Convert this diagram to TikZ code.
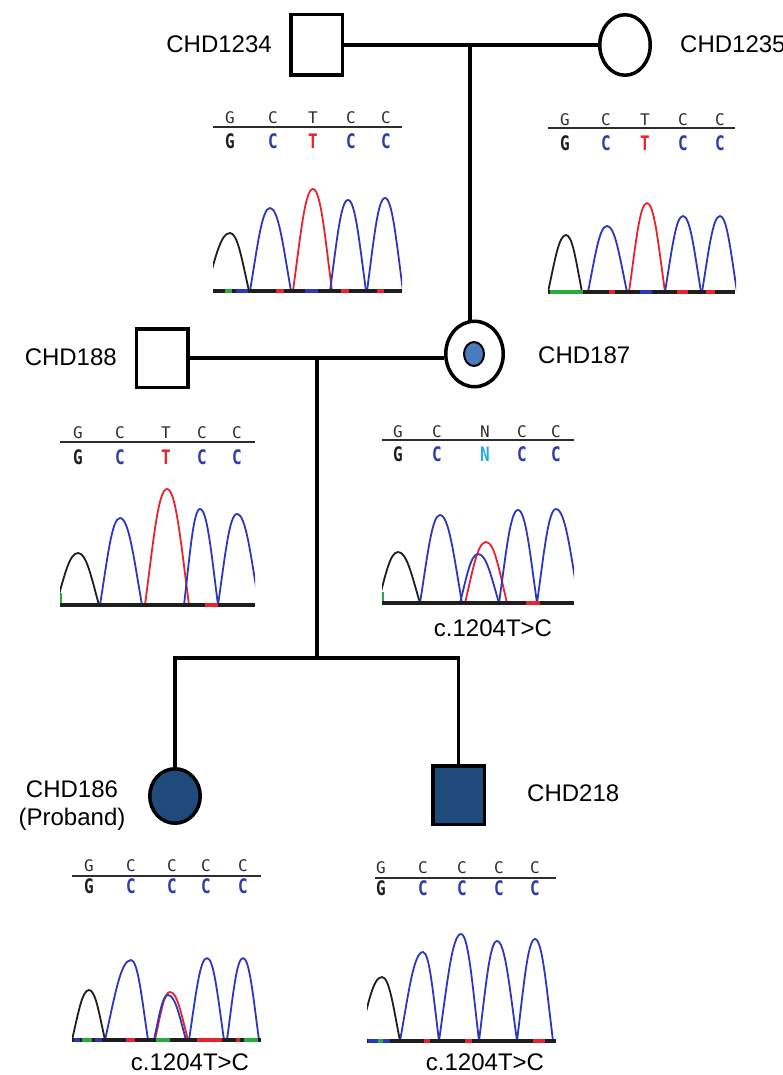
\documentclass[tikz,border=0pt]{standalone}
\usepackage{fontspec}
\setmainfont{Liberation Sans}
\newfontfamily\seqfont[Scale=1.0]{DejaVu Sans Mono}
\newfontfamily\seqbold[FakeStretch=0.8]{DejaVu Sans Mono Bold}
\usetikzlibrary{shapes.geometric}
\definecolor{aff}{RGB}{30,74,124}
\definecolor{dotc}{RGB}{72,124,190}
\definecolor{trblue}{RGB}{45,55,190}
\definecolor{trred}{RGB}{232,35,45}
\definecolor{trblack}{RGB}{30,30,30}
\definecolor{trgreen}{RGB}{40,170,60}
\definecolor{ltblue}{RGB}{45,60,170}
\definecolor{ncyan}{RGB}{40,170,225}
\definecolor{hdrgray}{RGB}{45,45,45}
\tikzset{
  ped/.style={line width=3.5pt},
  malebox/.style={draw, line width=3.5pt, rectangle, inner sep=0pt, minimum width=51.5pt},
  femalebox/.style={draw, line width=3.5pt, ellipse, inner sep=0pt},
  lab/.style={font=\fontsize{24}{28}\selectfont, inner sep=0pt},
  upl/.style={font=\fontsize{16}{16}\selectfont\seqfont, text=hdrgray, inner sep=0pt},
  lol/.style={font=\fontsize{20}{20}\selectfont\seqbold, inner sep=0pt},
  hline/.style={line width=2pt, hdrgray},
  trace/.style={line width=1.8pt, line join=round},
  base/.style={line width=3.5pt, trblack},
  bseg/.style={line width=3.5pt}
}
\newcommand\pk[6]{%
  \pgfmathsetmacro\pka{#2+0.38*(#3-#2)}%
  \pgfmathsetmacro\pkb{#6+0.55*(#5-#6)}%
  \pgfmathsetmacro\pkc{#3-0.4*(#3-#2)}%
  \pgfmathsetmacro\pkd{#3+0.4*(#4-#3)}%
  \pgfmathsetmacro\pke{#4-0.38*(#4-#3)}%
  \draw[trace,#1] (#2,#6) .. controls (\pka,\pkb) and (\pkc,#5) .. (#3,#5) .. controls (\pkd,#5) and (\pke,\pkb) .. (#4,#6);}
\newcommand\bs[4]{\draw[bseg,#1] (#2,#4) -- (#3,#4);}
\begin{document}
\begin{tikzpicture}[x=1pt,y=-1pt]
\useasboundingbox[fill=white] (0,0) rectangle (783,1075);

% ---------------- pedigree ----------------
\node[malebox, minimum height=60.5pt] (i1234) at (316.5,45) {};
\node[femalebox, minimum width=50.5pt, minimum height=60.5pt] (i1235) at (625,45) {};
\node[femalebox, minimum width=57.5pt, minimum height=65.5pt] (i187) at (474.5,354) {};
\node[ellipse, draw, line width=2pt, fill=dotc, inner sep=0pt, minimum width=20pt, minimum height=24pt] (d187) at (474,354) {};
\node[malebox, minimum height=58.5pt] (i188) at (162,358) {};
\node[femalebox, fill=aff, minimum width=50.5pt, minimum height=54.5pt] (i186) at (175,796) {};
\node[malebox, fill=aff, minimum height=58.5pt] (i218) at (458.5,795) {};

\coordinate (m1) at (470,45);
\coordinate (m2) at (317,358);
\coordinate (s) at (317,658);
\coordinate (sl) at (175,658);
\coordinate (sr) at (458.5,658);

\draw[ped] (i1234.east) -- (i1235.west);
\draw[ped] (m1) -- (m1 |- i187.north);
\draw[ped] (i188.east) -- (i188.east -| i187.west);
\draw[ped] (m2) -- (s);
\draw[ped] (i186.north) -- (sl) -- (sr) -- (i218.north);

\node[lab, anchor=east] (l1234) at (272,44) {CHD1234};
\node[lab, anchor=west] (l1235) at (680,44) {CHD1235};
\node[lab, anchor=east] (l188) at (117,357) {CHD188};
\node[lab, anchor=west] (l187) at (538,355) {CHD187};
\node[lab, align=center] (l186) at (72,806) {CHD186\\(Proband)};
\node[lab, anchor=west] (l218) at (527,793) {CHD218};

% ---------------- chromatogram 1 (CHD1234) ----------------
\draw[hline] (213,127) -- (402,127);
\foreach \x/\u/\c [count=\i] in {230/G/trblack,273/C/ltblue,313/T/trred,351/C/ltblue,386/C/ltblue}{
  \node[upl] (ua\i) at (\x,118) {\u};
  \node[lol, text=\c] (la\i) at (\x,141) {\u};}
\begin{scope}
\clip (213,150) rectangle (402,295);
\pk{trblack}{206}{230}{249}{233}{291}
\pk{trblue}{250}{270}{291}{208}{291}
\pk{trred}{293}{313}{332}{189}{291}
\pk{trblue}{330}{348}{366}{200}{291}
\pk{trblue}{367}{385}{403}{198}{291}
\end{scope}
\draw[base] (213,291) -- (402,291);
\bs{trgreen}{225}{232}{291}\bs{trblue}{236}{248}{291}\bs{trred}{276}{284}{291}
\bs{trblue}{305}{318}{291}\bs{trred}{341}{349}{291}\bs{trred}{377}{384}{291}

% ---------------- chromatogram 2 (CHD1235) ----------------
\draw[hline] (548,128) -- (735,128);
\foreach \x/\u/\c [count=\i] in {565/G/trblack,606/C/ltblue,645/T/trred,683/C/ltblue,720/C/ltblue}{
  \node[upl] (ub\i) at (\x,120) {\u};
  \node[lol, text=\c] (lb\i) at (\x,143) {\u};}
\begin{scope}
\clip (548,150) rectangle (736,296);
\pk{trblack}{548}{566}{582}{235}{292}
\pk{trblue}{588}{607}{627}{226}{292}
\pk{trred}{629}{647}{665}{203}{292}
\pk{trblue}{665}{683}{701}{216}{292}
\pk{trblue}{702}{720}{737}{216}{292}
\end{scope}
\draw[base] (548,292) -- (735,292);
\bs{trgreen}{550}{583}{292}\bs{trred}{609}{615}{292}\bs{trblue}{640}{652}{292}
\bs{trred}{677}{688}{292}\bs{trred}{706}{715}{292}

% ---------------- chromatogram 3 (CHD188) ----------------
\draw[hline] (60,442) -- (255,442);
\foreach \x/\u/\c [count=\i] in {78/G/trblack,120/C/ltblue,166/T/trred,202/C/ltblue,237/C/ltblue}{
  \node[upl] (uc\i) at (\x,433) {\u};
  \node[lol, text=\c] (lc\i) at (\x,457) {\u};}
\begin{scope}
\clip (60,470) rectangle (255,609);
\pk{trblack}{56}{78}{99}{553}{605}
\pk{trblue}{100}{120}{142}{518}{605}
\pk{trred}{145}{167}{189}{489}{605}
\pk{trblue}{184}{200}{218}{509}{605}
\pk{trblue}{218}{237}{259}{514}{605}
\end{scope}
\draw[base] (60,605) -- (255,605);
\draw[trgreen, line width=1.2pt] (61,593) -- (61,603);
\bs{trred}{205}{218}{605}

% ---------------- chromatogram 4 (CHD187) ----------------
\draw[hline] (382,440) -- (574,440);
\foreach \x/\u/\c [count=\i] in {398/G/trblack,437/C/ltblue,485/N/ncyan,522/C/ltblue,556/C/ltblue}{
  \node[upl] (ud\i) at (\x,432) {\u};
  \node[lol, text=\c] (ld\i) at (\x,454) {\u};}
\begin{scope}
\clip (382,470) rectangle (574,607);
\pk{trblack}{378}{398}{420}{552}{603}
\pk{trblue}{420}{440}{462}{515}{603}
\pk{trred}{465}{486}{507}{542}{603}
\pk{trblue}{460}{478}{499}{554}{603}
\pk{trblue}{499}{518}{537}{510}{603}
\pk{trblue}{537}{556}{579}{509}{603}
\end{scope}
\draw[base] (382,603) -- (574,603);
\draw[trgreen, line width=1.2pt] (383,592) -- (383,601);
\bs{trred}{526}{540}{603}
\node[lab] (c187) at (493,628) {c.1204T>C};

% ---------------- chromatogram 5 (CHD186) ----------------
\draw[hline] (72,876) -- (261,876);
\foreach \x/\u/\c [count=\i] in {89/G/trblack,131/C/ltblue,172/C/ltblue,206/C/ltblue,243/C/ltblue}{
  \node[upl] (ue\i) at (\x,866) {\u};
  \node[lol, text=\c] (le\i) at (\x,886) {\u};}
\begin{scope}
\clip (72,900) rectangle (261,1044);
\pk{trblack}{72}{89}{105}{990}{1040}
\pk{trblue}{105}{131}{148}{960}{1040}
\pk{trred}{155}{170}{188}{992}{1040}
\pk{trblue}{154}{168}{186}{995}{1040}
\pk{trblue}{189}{207}{224}{958}{1040}
\pk{trblue}{227}{243}{259}{958}{1040}
\end{scope}
\draw[base] (72,1040) -- (261,1040);
\bs{trblue}{74}{80}{1040}\bs{trgreen}{82}{92}{1040}\bs{trblue}{95}{102}{1040}
\bs{trred}{126}{135}{1040}\bs{trgreen}{156}{170}{1040}\bs{trred}{197}{222}{1040}
\bs{trred}{236}{240}{1040}\bs{trgreen}{244}{258}{1040}
\node[lab] (c186) at (190,1062) {c.1204T>C};

% ---------------- chromatogram 6 (CHD218) ----------------
\draw[hline] (375,878) -- (556,878);
\foreach \x/\u/\c [count=\i] in {381/G/trblack,423/C/ltblue,462/C/ltblue,499/C/ltblue,535/C/ltblue}{
  \node[upl] (uf\i) at (\x,868) {\u};
  \node[lol, text=\c] (lf\i) at (\x,888) {\u};}
\begin{scope}
\clip (367,900) rectangle (557,1045);
\pk{trblack}{359}{382}{400}{977}{1041}
\pk{trblue}{400}{423}{439}{952}{1041}
\pk{trblue}{439}{461}{479}{934}{1041}
\pk{trblue}{479}{497}{517}{941}{1041}
\pk{trblue}{517}{535}{553}{939}{1041}
\end{scope}
\draw[base] (367,1041) -- (556,1041);
\bs{trblue}{368}{378}{1041}\bs{trgreen}{378}{383}{1041}\bs{trblue}{383}{390}{1041}
\bs{trred}{424}{430}{1041}\bs{trred}{465}{472}{1041}\bs{trred}{533}{545}{1041}
\node[lab] (c218) at (485,1062) {c.1204T>C};
\end{tikzpicture}
\end{document}
